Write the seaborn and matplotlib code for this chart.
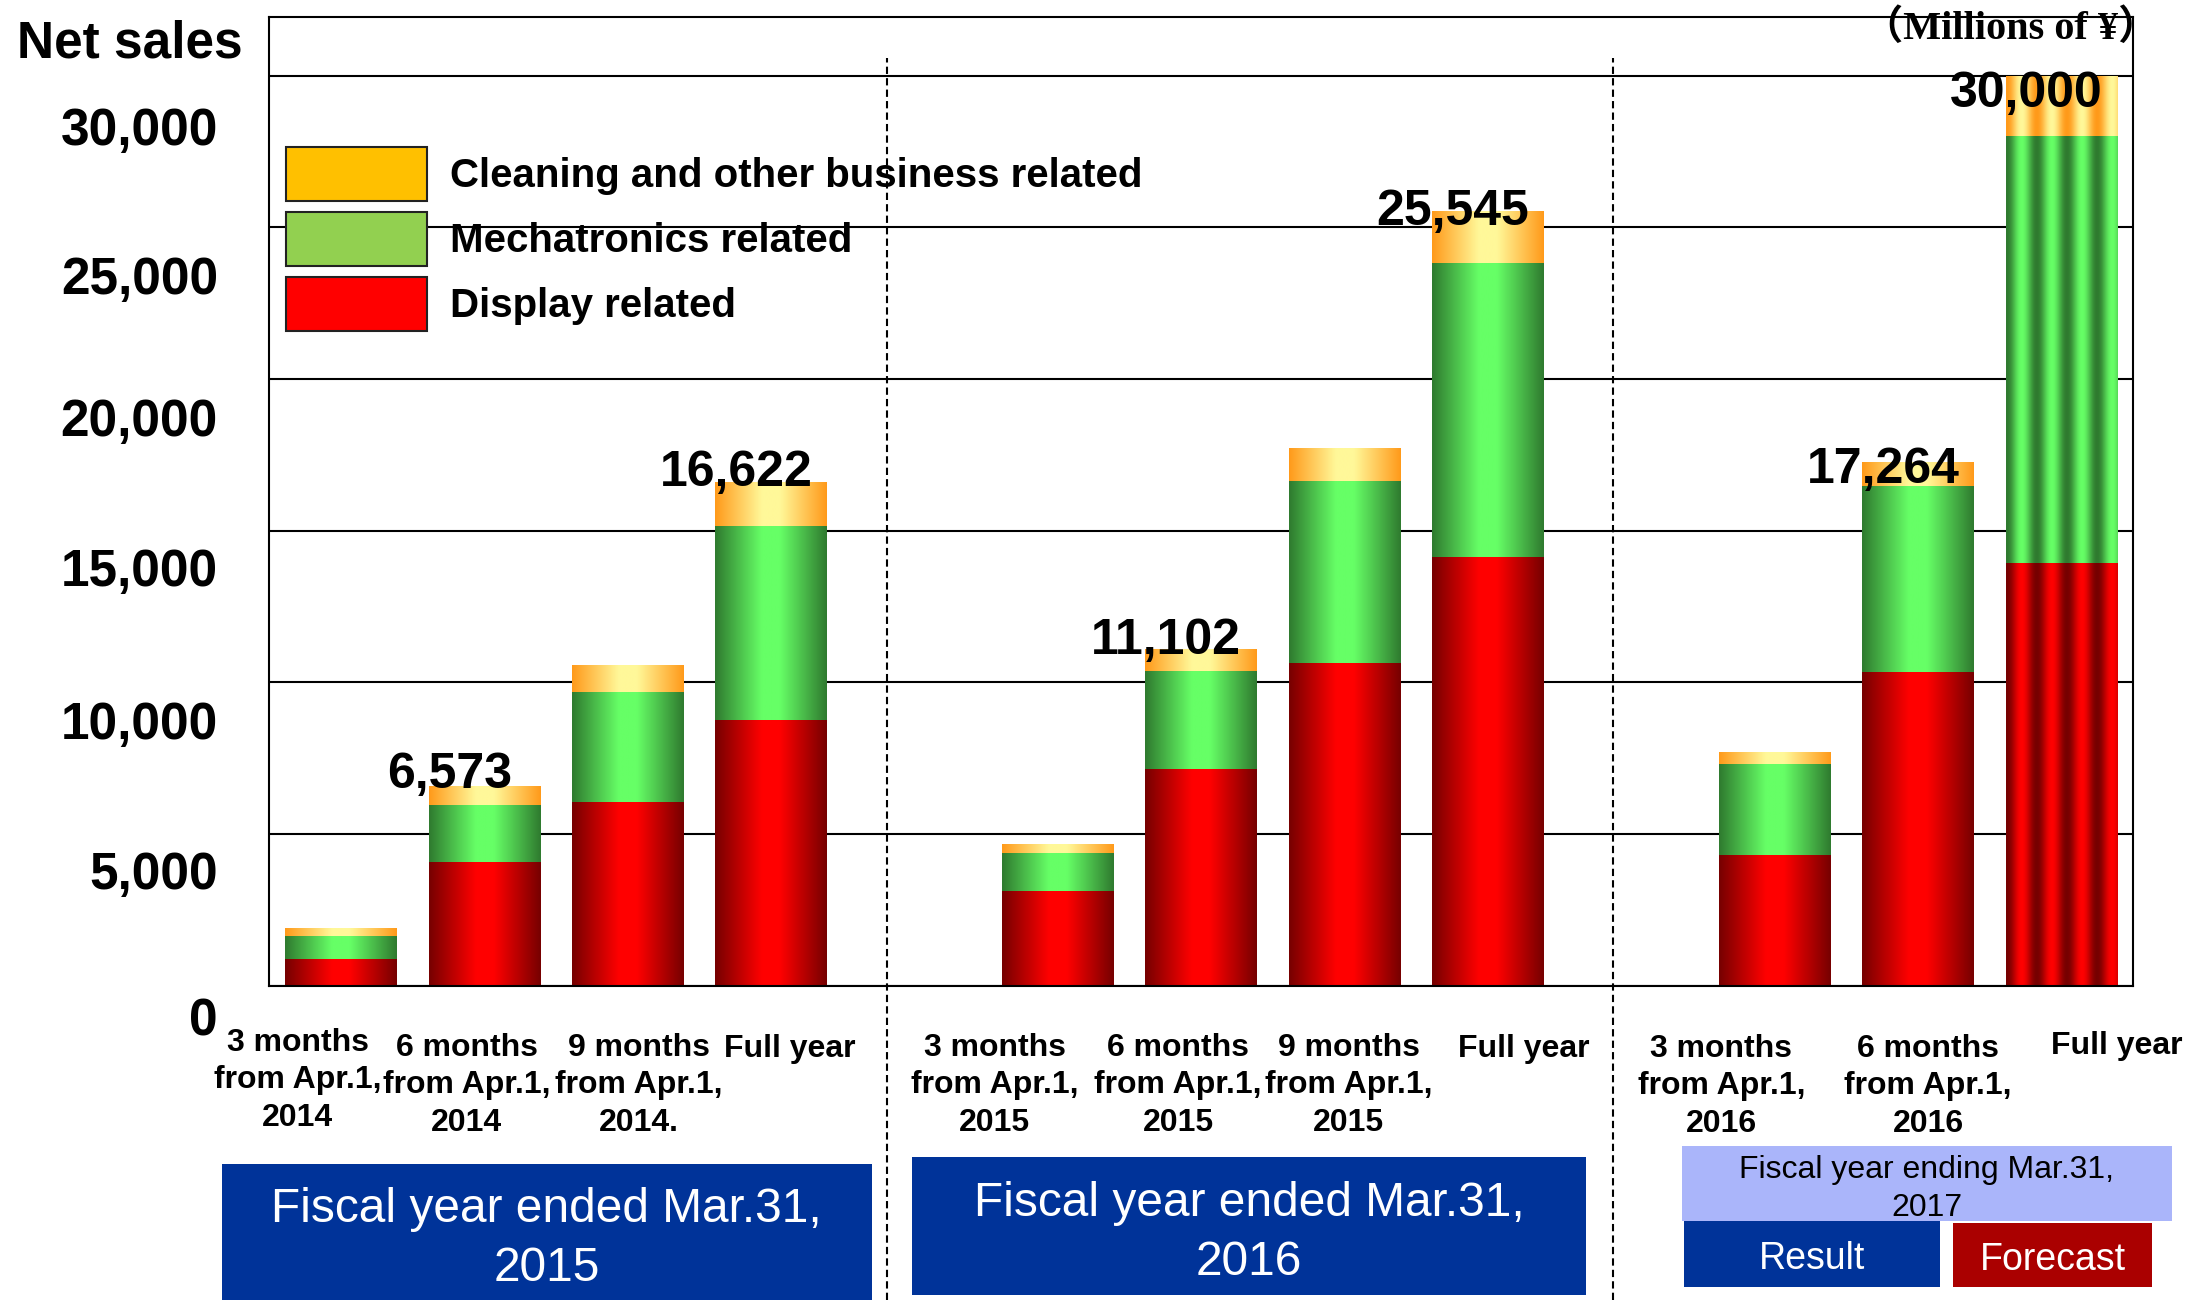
import numpy as np
import pandas as pd
import seaborn as sns
import matplotlib.pyplot as plt
from matplotlib.colors import LinearSegmentedColormap
from matplotlib.patches import Patch, Rectangle
from matplotlib.lines import Line2D
from matplotlib.transforms import ScaledTranslation, blended_transform_factory

# Period labels (one bar each) and the fiscal year group they belong to
periods = ["3 months\nfrom Apr.1,\n2014", "6 months\nfrom Apr.1,\n2014", "9 months\nfrom Apr.1,\n2014.", "Full year",
           "3 months\nfrom Apr.1,\n2015", "6 months\nfrom Apr.1,\n2015", "9 months\nfrom Apr.1,\n2015", "Full year",
           "3 months\nfrom Apr.1,\n2016", "6 months\nfrom Apr.1,\n2016", "Full year"]
groups = [0, 0, 0, 0, 1, 1, 1, 1, 2, 2, 2]
forecast = [False] * 10 + [True]

# Net sales by segment (millions of yen)
display = [890, 4090, 6070, 8760, 3110, 7150, 10640, 14140, 4310, 10335, 13930]
mechatronics = [735, 1880, 3610, 6390, 1270, 3225, 5990, 9695, 3005, 6135, 14070]
cleaning = [265, 603, 890, 1472, 300, 727, 1110, 1710, 390, 794, 2000]
shown_totals = [None, 6573, None, 16622, None, 11102, None, 25545, None, 17264, 30000]

group_titles = ["Fiscal year ended Mar.31,\n2015", "Fiscal year ended Mar.31,\n2016"]
y_ticks = [0, 5000, 10000, 15000, 20000, 25000, 30000]
legend_names = ["Cleaning and other business related", "Mechatronics related", "Display related"]

# bar slot positions: one empty slot between fiscal years
pos = [i + g for i, g in enumerate(groups)]

df = pd.DataFrame({"pos": pos, "display": display, "mecha": mechatronics, "clean": cleaning})
df["top_green"] = df["display"] + df["mecha"]
df["top_all"] = df["top_green"] + df["clean"]

sns.set_style("white")
plt.rcParams["font.family"] = ["Liberation Sans", "DejaVu Sans"]
plt.rcParams["text.color"] = "black"

W, H = 2186, 1300
fig = plt.figure(figsize=(W / 100, H / 100), dpi=100)
ax = fig.add_axes([269 / W, 1 - 985.6 / H, (2133 - 269) / W, (985.6 - 16.7) / H])

layers = [
    ("top_all", "#FFC000", ["#FF9A1A", "#FFF899"]),
    ("top_green", "#92D050", ["#2F7A2F", "#66FF66"]),
    ("display", "#FF0000", ["#760000", "#FF0000"]),
]


def profile(t, striped):
    if striped:
        return 0.5 + 0.5 * np.cos(2 * np.pi * 3.7 * (t - 0.14))
    return np.interp(t, [0, 0.42, 0.58, 1], [0, 1, 1, 0])


t = np.linspace(0, 1, 300)
for li, (col, base, stops) in enumerate(layers):
    n0 = len(ax.patches)
    sns.barplot(data=df, x="pos", y=col, native_scale=True, width=0.775, color=base,
                saturation=1, errorbar=None, linewidth=0, ax=ax)
    cmap = LinearSegmentedColormap.from_list("g%d" % li, stops)
    for patch, fc in zip(ax.patches[n0:], forecast):
        x0, y0 = patch.get_x(), patch.get_y()
        w, h = patch.get_width(), patch.get_height()
        img = cmap(profile(t, fc))[np.newaxis, :, :]
        im = ax.imshow(img, extent=[x0, x0 + w, y0, y0 + h], aspect="auto",
                       interpolation="bilinear", zorder=1.1 + li * 0.1)
        im.set_clip_path(patch)

ax.set_xlim(-0.5, 12.5)
ax.set_ylim(0, 31950)
ax.set_xlabel("")
ax.set_ylabel("")
ax.set_xticks([])
ax.set_yticks(y_ticks)
ax.set_yticklabels([])
ax.tick_params(length=0)
ax.set_axisbelow(True)
ax.yaxis.grid(True, color="black", lw=1.5)
for s in ax.spines.values():
    s.set_visible(True)
    s.set_color("black")
    s.set_linewidth(1.5)

# y tick labels sit below their gridlines in the original
tick_drop = [36, 42, 43, 42, 43, 53, 56]
for v, d in zip(y_ticks, tick_drop):
    tr = ax.get_yaxis_transform() + ScaledTranslation(0, -d / 100, fig.dpi_scale_trans)
    ax.text(-0.0274, v, f"{v:,}", transform=tr, ha="right", va="center",
            fontsize=37, fontweight="bold")

# totals above selected bars
label_drop = [2, 4, 5, 14, 21, 31]
k = 0
for p, tot, val in zip(pos, df["top_all"], shown_totals):
    if val is None:
        continue
    ax.annotate(f"{val:,}", (p, tot), xytext=(-25, -label_drop[k] * 0.72), textcoords="offset points",
                ha="center", va="baseline", fontsize=36, fontweight="bold", zorder=5,
                annotation_clip=False)
    k += 1

# period labels under the axis
label_shift = [-0.30, -0.12, 0.08, 0.13, -0.44, -0.16, 0.03, 0.25, -0.37, 0.07, 0.39]
label_top = [1028, 1033, 1033, 1034, 1033, 1033, 1033, 1034, 1034, 1034, 1031]
xfig = blended_transform_factory(ax.transData, fig.transFigure)
for p, lab, sh, yt in zip(pos, periods, label_shift, label_top):
    ax.text(p + sh, 1 - yt / H, lab, transform=xfig, ha="center", va="top",
            fontsize=23, fontweight="bold", linespacing=1.32)

# dashed separators between fiscal years
for xs in [3.81, 8.87]:
    fig.add_artist(Line2D([xs, xs], [0, 1 - 58 / H], transform=xfig, color="black",
                          lw=1.5, dashes=(3.5, 2)))

# legend
handles = [Patch(facecolor=c, edgecolor="#222222", lw=1.5) for c in ["#FFC000", "#92D050", "#FF0000"]]
ax.legend(handles, legend_names, loc="upper left", bbox_to_anchor=(286 / W, 1 - 147 / H),
          bbox_transform=fig.transFigure, frameon=False, prop={"weight": "bold", "size": 29},
          handlelength=3.5, handleheight=1.68, labelspacing=0.28, handletextpad=0.57,
          borderpad=0, borderaxespad=0, labelcolor="black")


def box(x0, y0, x1, y1, color):
    fig.add_artist(Rectangle((x0 / W, 1 - y1 / H), (x1 - x0) / W, (y1 - y0) / H,
                             transform=fig.transFigure, facecolor=color, edgecolor="none"))


box(221.6, 1164, 872, 1300, "#003399")
fig.text(546.5 / W, 1 - 1239 / H, group_titles[0], ha="center", va="center", color="white",
         fontsize=34.5, linespacing=1.4)
box(911.7, 1157, 1586, 1295, "#003399")
fig.text(1249 / W, 1 - 1233 / H, group_titles[1], ha="center", va="center", color="white",
         fontsize=34.5, linespacing=1.4)
box(1682, 1146, 2172, 1221, "#AAB5FA")
fig.text(1926.5 / W, 1 - 1189 / H, "Fiscal year ending Mar.31,\n2017", ha="center", va="center",
         color="black", fontsize=23, linespacing=1.35)
box(1684, 1221, 1940, 1287, "#003399")
fig.text(1812 / W, 1 - 1259 / H, "Result", ha="center", va="center", color="white", fontsize=27)
box(1953, 1223, 2152, 1287, "#AA0000")
fig.text(2053 / W, 1 - 1260 / H, "Forecast", ha="center", va="center", color="white", fontsize=27)

fig.text(17 / W, 1 - 20 / H, "Net sales", ha="left", va="top", fontsize=37, fontweight="bold")
fig.text(2158 / W, 1 - 9 / H, "（Millions of ¥）", ha="right", va="top", fontsize=29, fontweight="bold",
         family=["Liberation Serif", "Noto Sans CJK JP"])

fig.savefig("out.png", dpi=100)
